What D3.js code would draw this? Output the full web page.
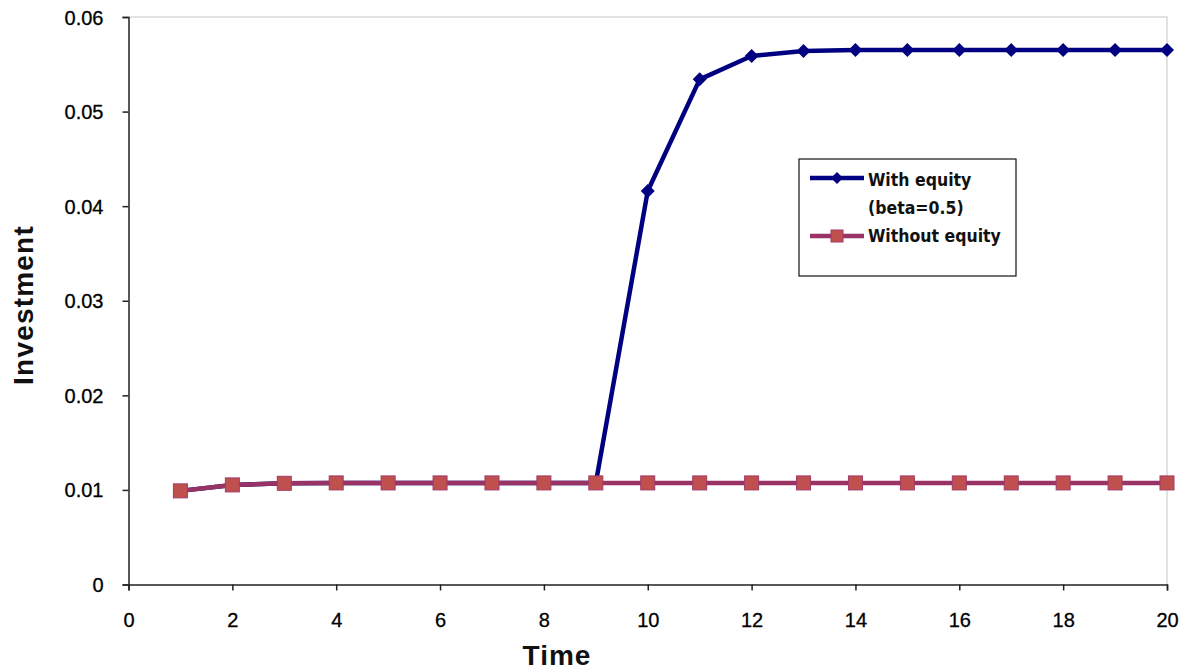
<!DOCTYPE html>
<html>
<head>
<meta charset="utf-8">
<script src="https://cdn.jsdelivr.net/npm/d3@7"></script>
<style>
html,body{margin:0;padding:0;background:#fff;}
svg{display:block;}
</style>
</head>
<body>
<svg id="chart" width="1188" height="671"></svg>
<script>
const time = [1,2,3,4,5,6,7,8,9,10,11,12,13,14,15,16,17,18,19,20];
const withEquity = [0.0099,0.01053,0.0107,0.01074,0.01074,0.01074,0.01074,0.01074,0.01074,0.04161,0.05341,0.05588,0.0564,0.0565,0.0565,0.0565,0.0565,0.0565,0.0565,0.0565];
const withoutEquity = [0.0099,0.01053,0.0107,0.01074,0.01074,0.01074,0.01074,0.01074,0.01074,0.01074,0.01074,0.01074,0.01074,0.01074,0.01074,0.01074,0.01074,0.01074,0.01074,0.01074];
const xTicks = [0,2,4,6,8,10,12,14,16,18,20];
const yTicks = [0,0.01,0.02,0.03,0.04,0.05,0.06];
const seriesNames = ["With equity", "(beta=0.5)", "Without equity"];

const svg = d3.select("#chart");
const m = {left:128.5, right:1167, top:17, bottom:584.5};
const x = d3.scaleLinear().domain([0,20]).range([m.left, m.right]);
const y = d3.scaleLinear().domain([0,0.06]).range([m.bottom, m.top]);

// plot area border (top/right light gray)
svg.append("path")
  .attr("d", `M${m.left},${m.top}H${m.right}V${m.bottom}`)
  .attr("fill","none").attr("stroke","#d9d9d9").attr("stroke-width",1.5);

const font = "'Liberation Sans', Arial, sans-serif";

// axes
const xAxis = svg.append("g").attr("transform",`translate(0,${m.bottom})`)
  .call(d3.axisBottom(x).tickValues(xTicks).tickSize(6).tickPadding(22).tickFormat(d3.format("d")));
const yAxis = svg.append("g").attr("transform",`translate(${m.left},0)`)
  .call(d3.axisLeft(y).tickValues(yTicks).tickSize(6).tickPadding(19).tickFormat(d => d===0 ? "0" : d3.format(".2f")(d)));
[xAxis,yAxis].forEach(a=>{
  a.select(".domain").attr("stroke","#222").attr("stroke-width",1.5);
  a.selectAll(".tick line").attr("stroke","#222").attr("stroke-width",1.5);
  a.selectAll(".tick text").attr("fill","#000").style("font-family",font).style("font-size","20px")
    .attr("stroke","#000").attr("stroke-width",0.3);
});
yAxis.selectAll(".tick text").attr("dy","0.35em");

// lines
const line = d3.line().x((d,i)=>x(time[i])).y(d=>y(d));
svg.append("path").datum(withEquity).attr("d",line)
  .attr("fill","none").attr("stroke","#000080").attr("stroke-width",4.5).attr("stroke-linejoin","round");
svg.append("g").selectAll("path").data(withEquity).join("path")
  .attr("transform",(d,i)=>`translate(${x(time[i])},${y(d)})`)
  .attr("d","M0,-7L7,0L0,7L-7,0Z").attr("fill","#000080");

svg.append("path").datum(withoutEquity).attr("d",line)
  .attr("fill","none").attr("stroke","#993366").attr("stroke-width",4.5).attr("stroke-linejoin","round");
svg.append("g").selectAll("rect").data(withoutEquity).join("rect")
  .attr("x",(d,i)=>x(time[i])-7).attr("y",d=>y(d)-7)
  .attr("width",14).attr("height",14)
  .attr("fill","#c0504d").attr("stroke","#a03a6a").attr("stroke-width",1);

// legend
const lg = svg.append("g");
lg.append("rect").attr("x",799).attr("y",159).attr("width",217).attr("height",117)
  .attr("fill","#fff").attr("stroke","#111").attr("stroke-width",1.2);
lg.append("line").attr("x1",810).attr("x2",864).attr("y1",178).attr("y2",178)
  .attr("stroke","#000080").attr("stroke-width",4.5);
lg.append("path").attr("transform","translate(837,178)").attr("d","M0,-6L6,0L0,6L-6,0Z").attr("fill","#000080");
lg.append("line").attr("x1",810).attr("x2",864).attr("y1",236).attr("y2",236)
  .attr("stroke","#993366").attr("stroke-width",4.5);
lg.append("rect").attr("x",831).attr("y",230).attr("width",12).attr("height",12)
  .attr("fill","#c0504d").attr("stroke","#a03a6a").attr("stroke-width",1);
const lt = [[seriesNames[0],186],[seriesNames[1],214],[seriesNames[2],242]];
lg.selectAll("text").data(lt).join("text")
  .attr("x",868).attr("y",d=>d[1]).text(d=>d[0])
  .style("font-family","'DejaVu Sans Condensed', 'DejaVu Sans', sans-serif").style("font-stretch","condensed")
  .style("font-weight","bold").style("font-size","17.5px").attr("fill","#111");

// axis titles
svg.append("text").attr("x",557).attr("y",665).attr("text-anchor","middle")
  .style("font-family",font).style("font-weight","bold").style("font-size","28px").style("letter-spacing","1px").attr("fill","#111").text("Time");
svg.append("text").attr("transform","translate(33,305) rotate(-90)").attr("text-anchor","middle")
  .style("font-family",font).style("font-weight","bold").style("font-size","28px").style("letter-spacing","1.2px").attr("fill","#111").text("Investment");
</script>
</body>
</html>
